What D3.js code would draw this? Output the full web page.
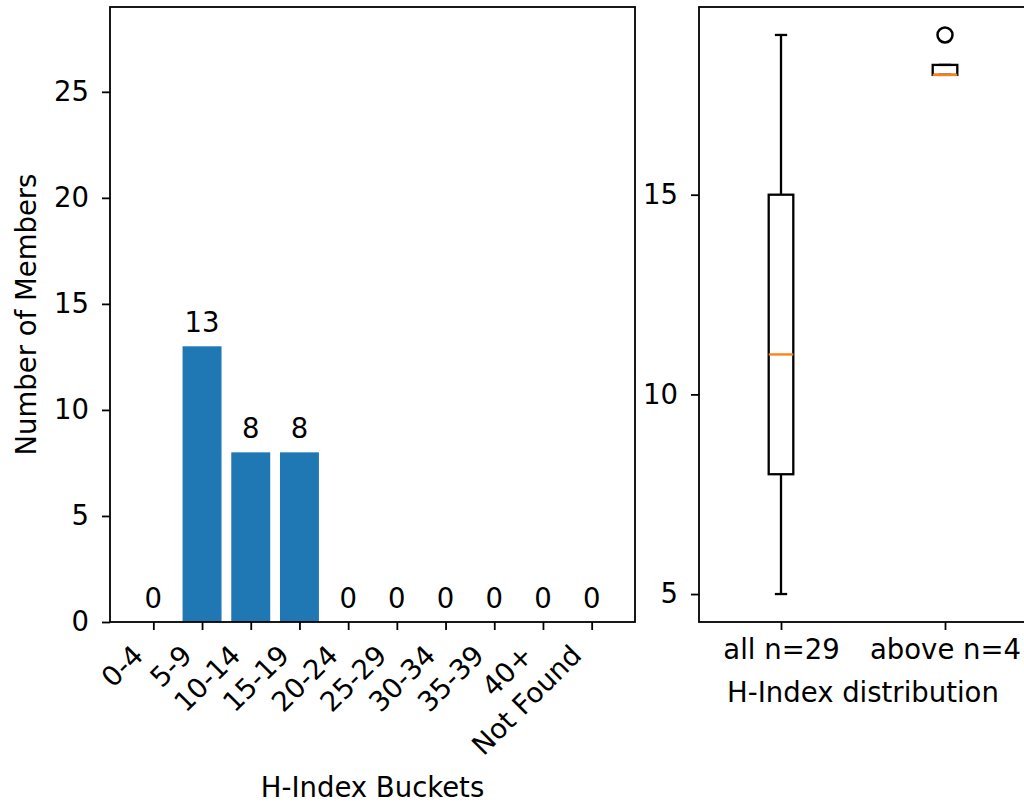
<!DOCTYPE html>
<html>
<head>
<meta charset="utf-8">
<script src="https://cdn.jsdelivr.net/npm/d3@7"></script>
<style>
  body { margin: 0; background: #fff; }
  text { font-family: "DejaVu Sans", sans-serif; fill: #000; }
</style>
</head>
<body>
<div id="chart"></div>
<script>
// Chart data
var buckets = ["0-4", "5-9", "10-14", "15-19", "20-24", "25-29", "30-34", "35-39", "40+", "Not Found"];
var counts = [0, 13, 8, 8, 0, 0, 0, 0, 0, 0];
var yTicksLeft = [0, 5, 10, 15, 20, 25];

var boxNames = ["all n=29", "above n=4"];
var whiskerLow = [5, 18];
var q1 = [8, 18];
var medians = [11, 18];
var q3 = [15, 18.25];
var whiskerHigh = [19, 18.25];
var outliers = [[], [19]];
var yTicksRight = [5, 10, 15];

var width = 1024, height = 805;
var tickFont = 27.5, labelFont = 27.5;
var tickLen = 8, minorLen = 4.6, pad = 9;

var svg = d3.select("#chart").append("svg")
    .attr("width", width)
    .attr("height", height);

// ---------- Left: bar chart ----------
var L = {left: 110, right: 635, top: 7, bottom: 622};
var x = d3.scaleLinear().domain([-0.89, buckets.length - 1 + 0.89]).range([L.left, L.right]);
var y = d3.scaleLinear().domain([0, 29]).range([L.bottom, L.top]);
var barW = x(0.8) - x(0);

svg.selectAll("rect.bar")
    .data(counts)
    .enter().append("rect")
    .attr("class", "bar")
    .attr("x", function(d, i) { return x(i) - barW / 2; })
    .attr("y", function(d) { return y(d); })
    .attr("width", barW)
    .attr("height", function(d) { return y(0) - y(d); })
    .attr("fill", "#1f77b4");

// value labels above bars
svg.selectAll("text.val")
    .data(counts)
    .enter().append("text")
    .attr("class", "val")
    .attr("x", function(d, i) { return x(i); })
    .attr("y", function(d) { return y(d) - 14; })
    .attr("text-anchor", "middle")
    .style("font-size", tickFont + "px")
    .text(function(d) { return d; });

// axes
var xAxisL = svg.append("g")
    .attr("transform", "translate(0," + L.bottom + ")")
    .call(d3.axisBottom(x).tickValues(d3.range(buckets.length)).tickFormat(function(i) { return buckets[i]; })
        .tickSize(tickLen).tickPadding(pad));
xAxisL.selectAll("text")
    .style("font-size", tickFont + "px")
    .attr("text-anchor", "end")
    .attr("dy", null)
    .attr("y", 0)
    .attr("transform", "translate(-9," + (tickLen + pad + 18) + ") rotate(-45)");

var yAxisL = svg.append("g")
    .attr("transform", "translate(" + L.left + ",0)")
    .call(d3.axisLeft(y).tickValues(yTicksLeft).tickSize(tickLen).tickPadding(pad + 4));
yAxisL.selectAll("text").style("font-size", tickFont + "px");

svg.append("rect")
    .attr("x", L.left).attr("y", L.top)
    .attr("width", L.right - L.left).attr("height", L.bottom - L.top)
    .attr("fill", "none").attr("stroke", "#000").attr("stroke-width", 1.8);

svg.append("text")
    .attr("x", (L.left + L.right) / 2)
    .attr("y", 797)
    .attr("text-anchor", "middle")
    .style("font-size", labelFont + "px")
    .text("H-Index Buckets");

svg.append("text")
    .attr("transform", "translate(36," + (L.top + L.bottom) / 2 + ") rotate(-90)")
    .attr("text-anchor", "middle")
    .style("font-size", labelFont + "px")
    .text("Number of Members");

// ---------- Right: box plots ----------
var R = {left: 699, right: 1027, top: 7, bottom: 622};
var bx = d3.scaleLinear().domain([0.5, 2.5]).range([R.left, R.right]);
var by = d3.scaleLinear().domain([4.3, 19.7]).range([R.bottom, R.top]);
var boxW = bx(0.15) - bx(0);
var capW = boxW / 2;

var boxes = svg.selectAll("g.box")
    .data(boxNames)
    .enter().append("g")
    .attr("class", "box");

boxes.each(function(name, i) {
    var g = d3.select(this);
    var cx = bx(i + 1);
    // whiskers
    g.append("line").attr("x1", cx).attr("x2", cx).attr("y1", by(q1[i])).attr("y2", by(whiskerLow[i]))
        .attr("stroke", "#000").attr("stroke-width", 2.3);
    g.append("line").attr("x1", cx).attr("x2", cx).attr("y1", by(q3[i])).attr("y2", by(whiskerHigh[i]))
        .attr("stroke", "#000").attr("stroke-width", 2.3);
    // caps
    g.append("line").attr("x1", cx - capW / 2).attr("x2", cx + capW / 2)
        .attr("y1", by(whiskerLow[i])).attr("y2", by(whiskerLow[i]))
        .attr("stroke", "#000").attr("stroke-width", 2.3);
    g.append("line").attr("x1", cx - capW / 2).attr("x2", cx + capW / 2)
        .attr("y1", by(whiskerHigh[i])).attr("y2", by(whiskerHigh[i]))
        .attr("stroke", "#000").attr("stroke-width", 2.3);
    // box
    g.append("rect")
        .attr("x", cx - boxW / 2).attr("y", by(q3[i]))
        .attr("width", boxW).attr("height", by(q1[i]) - by(q3[i]))
        .attr("fill", "none").attr("stroke", "#000").attr("stroke-width", 2.3);
    // median
    g.append("line").attr("x1", cx - boxW / 2).attr("x2", cx + boxW / 2)
        .attr("y1", by(medians[i])).attr("y2", by(medians[i]))
        .attr("stroke", "#ff7f0e").attr("stroke-width", 2.3);
    // fliers
    g.selectAll("circle")
        .data(outliers[i])
        .enter().append("circle")
        .attr("cx", cx).attr("cy", function(d) { return by(d); })
        .attr("r", 7.5).attr("fill", "none").attr("stroke", "#000").attr("stroke-width", 2.5);
});

var xAxisR = svg.append("g")
    .attr("transform", "translate(0," + R.bottom + ")")
    .call(d3.axisBottom(bx).tickValues([1, 2]).tickFormat(function(v) { return boxNames[v - 1]; })
        .tickSize(tickLen).tickPadding(pad));
xAxisR.selectAll("text").style("font-size", tickFont + "px");

var yAxisR = svg.append("g")
    .attr("transform", "translate(" + R.left + ",0)")
    .call(d3.axisLeft(by).tickValues(d3.range(5, 20)).tickSize(minorLen).tickFormat(""));
yAxisR.call(d3.axisLeft(by).tickValues(yTicksRight).tickSize(tickLen).tickPadding(pad + 4));
yAxisR.selectAll("text").style("font-size", tickFont + "px");

svg.append("rect")
    .attr("x", R.left).attr("y", R.top)
    .attr("width", R.right - R.left).attr("height", R.bottom - R.top)
    .attr("fill", "none").attr("stroke", "#000").attr("stroke-width", 1.8);

svg.append("text")
    .attr("x", (R.left + R.right) / 2)
    .attr("y", 702)
    .attr("text-anchor", "middle")
    .style("font-size", labelFont + "px")
    .text("H-Index distribution");

svg.selectAll(".domain").remove();
svg.selectAll(".tick line").attr("stroke", "#000").attr("stroke-width", 1.8);
</script>
</body>
</html>
